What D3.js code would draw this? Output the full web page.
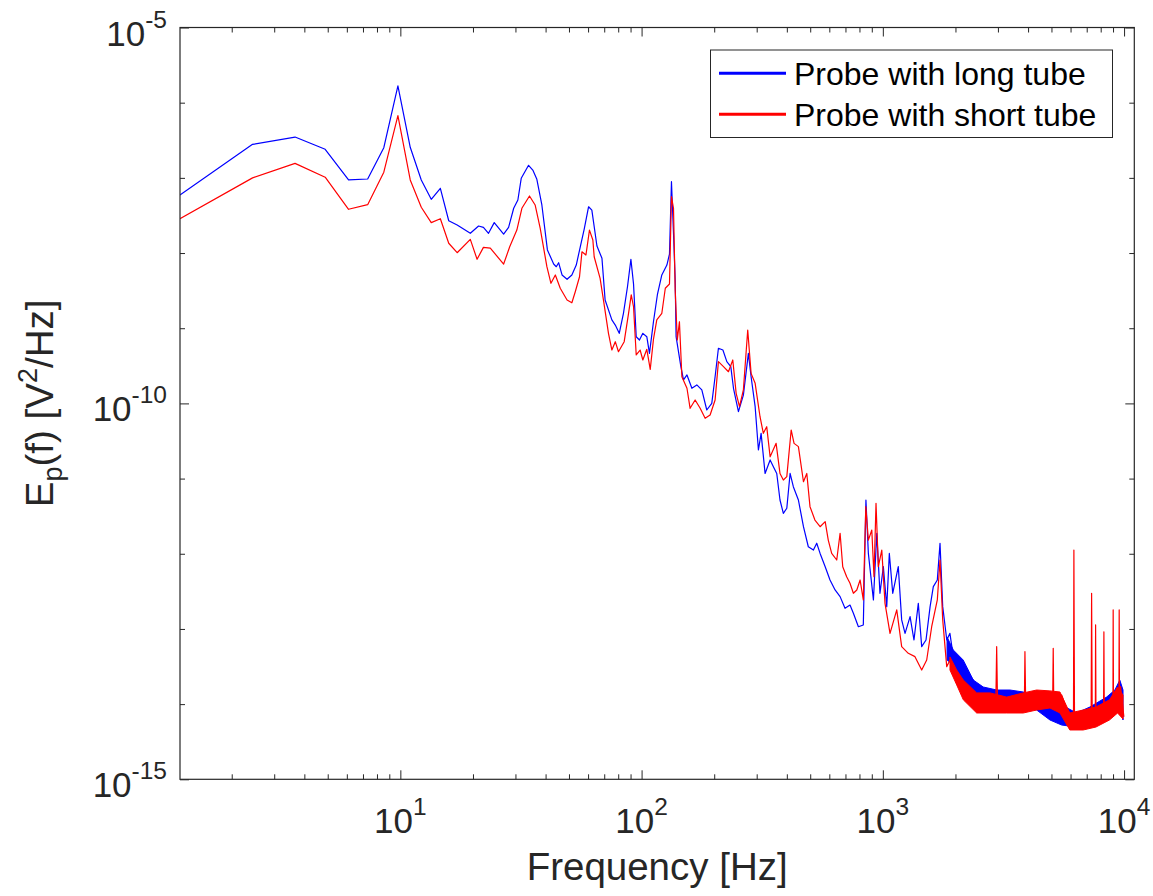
<!DOCTYPE html>
<html>
<head>
<meta charset="utf-8">
<script src="https://cdn.jsdelivr.net/npm/d3@7"></script>
<style>
  body { margin: 0; background: #fff; }
  text { font-family: "Liberation Sans", Arial, Helvetica, sans-serif; }
</style>
</head>
<body>
<svg id="chart" width="1153" height="896"></svg>
<script>
// spectra (frequency in Hz, E_p in V^2/Hz)
const freqLong = [
  1.22, 2.44, 3.66, 4.88, 6.10, 7.32, 8.54, 9.77, 10.99, 12.21, 13.43, 14.65, 15.87,
  17.2, 19.5, 21.1, 22.1, 23.2, 24.5, 26.8, 28.1, 29.5, 30.7, 31.7, 34.0, 35.4, 36.8,
  38.6, 40.7, 43.2, 44.3, 45.3, 46.8, 49.1, 51.4, 53.6, 55.7, 57.8, 60.3, 62.2, 65.3,
  68.5, 70.6, 75.3, 77.8, 80.8, 84.1, 87.4, 90.3, 92.6, 95.0, 98.0, 101.2, 105.1,
  107.8, 112.0, 116.4, 121.3, 127.3, 130.5, 133.0, 135.6, 137.8, 139.0, 145.5, 149.2,
  154.2, 161.6, 169.4, 177.7, 186.3, 195.4, 201.7, 208.2, 217.3, 225.6, 234.3, 240.4,
  252, 264.2, 277.1, 284.4, 295.6, 305, 312.9, 325, 341, 351.8, 363.3, 374.7, 386.9,
  399.9, 412.6, 425.6, 446.7, 468.8, 491, 515.5, 532.1, 549.5, 576.8, 604, 634, 665,
  697, 731, 755, 792, 830, 851, 871, 914, 944, 973, 1005, 1038, 1064, 1099, 1159,
  1197, 1236, 1297, 1346, 1403, 1449, 1510, 1570, 1619, 1682, 1726, 1771, 1841, 1897,
  1959, 2055, 2153, 2259, 2371, 2488, 2607, 2780, 2965, 3155, 3365, 3589, 3819, 4074,
  4337, 4624, 4932, 5165, 5420, 5781, 6353, 6770, 7211, 7816, 8466, 9160, 9608, 9908
];
const longTube = [
  5.92e-8, 2.79e-7, 3.49e-7, 2.40e-7, 9.38e-8, 9.66e-8, 2.52e-7, 1.67e-6, 2.55e-7, 9.38e-8, 5.19e-8, 7.26e-8, 2.69e-8,
  2.36e-8, 1.83e-8, 2.29e-8, 2.20e-8, 1.83e-8, 2.54e-8, 1.79e-8, 2.20e-8, 3.94e-8, 5.08e-8, 9.86e-8, 1.47e-7, 1.27e-7, 9.57e-8,
  4.36e-8, 1.10e-8, 7.14e-9, 6.58e-9, 7.44e-9, 5.11e-9, 4.48e-9, 5.11e-9, 6.93e-9, 1.21e-8, 2.07e-8, 4.13e-8, 3.73e-8, 1.24e-8,
  8.51e-9, 2.37e-9, 1.29e-9, 1.10e-9, 8.55e-10, 1.58e-9, 3.56e-9, 8.26e-9, 3.87e-9, 7.71e-10, 6.97e-10, 8.55e-10, 7.71e-10,
  4.63e-10, 1.22e-9, 2.85e-9, 5.11e-9, 6.93e-9, 9.70e-9, 8.89e-8, 1.83e-8, 4.38e-9, 7.71e-10, 3.08e-10, 2.05e-10,
  2.39e-10, 1.59e-10, 1.76e-10, 1.51e-10, 8.17e-11, 1.00e-10, 2.26e-10, 5.41e-10, 5.13e-10, 3.59e-10, 3.08e-10, 1.59e-10,
  7.76e-11, 1.29e-10, 4.63e-10, 2.26e-10, 9.04e-11, 2.40e-11, 4.00e-11, 1.17e-11, 1.77e-11, 1.44e-11, 1.17e-11, 5.19e-12, 3.45e-12,
  4.03e-12, 1.17e-11, 7.80e-12, 5.19e-12, 2.29e-12, 1.24e-12, 1.12e-12, 1.38e-12, 1.01e-12, 6.73e-13, 4.48e-13, 3.30e-13, 2.69e-13,
  1.88e-13, 2.08e-13, 1.62e-13, 1.07e-13, 1.13e-13, 5.19e-12, 1.01e-12, 2.43e-13, 1.87e-12, 2.98e-13, 6.73e-13, 1.98e-13, 1.01e-12, 2.98e-13, 6.73e-13,
  1.32e-13, 8.75e-14, 1.46e-13, 7.13e-14, 2.19e-13, 5.81e-14, 7.13e-14, 1.98e-13, 3.65e-13, 4.48e-13, 1.38e-12, 1.98e-13, 7.13e-14, 8.75e-14,
  4.28e-14, 3.15e-14, 3.49e-14, 2.57e-14, 2.09e-14, 1.39e-14, 1.26e-14, 1.39e-14, 1.26e-14, 1.32e-14, 1.26e-14, 1.14e-14, 1.14e-14, 1.08e-14,
  1.03e-14, 7.55e-15, 6.47e-15, 8.35e-15, 6.15e-15, 5.56e-15, 5.56e-15, 6.47e-15, 7.55e-15, 9.25e-15, 1.03e-14, 1.26e-14, 1.71e-14, 6.79e-15
];

const freqShort = [
  1.22, 2.44, 3.66, 4.88, 6.10, 7.32, 8.54, 9.77, 10.99, 12.21, 13.43, 14.65, 15.87,
  17.2, 19.5, 20.8, 22.1, 23.6, 26.8, 28.4, 30.4, 31.9, 34.3, 36.2, 38.0, 40.5, 42.1,
  43.9, 46.0, 49.1, 51.4, 53.1, 55.3, 56.6, 58.8, 60.8, 62.8, 63.6, 67.3, 69.5, 72.9,
  75.3, 77.8, 80.2, 84.7, 88.3, 90.6, 92.6, 95.0, 98.6, 101.2, 105.1, 108.6, 112.0,
  115.6, 121.3, 125.4, 130.5, 133.0, 135.6, 137.8, 140.6, 143.5, 146.9, 154.2, 158.9,
  166.7, 174.9, 183.4, 192.3, 201.7, 208.2, 218.5, 229.1, 238.8, 246.6, 254.6, 264.2,
  275.4, 284.4, 295.6, 309.7, 319.6, 330.1, 341, 361.1, 374.7, 386.9, 399.9, 416.9,
  428.5, 446.7, 468.8, 484, 499, 523, 549.5, 576.8, 594, 613.8, 644, 665, 682, 708,
  731, 755, 780, 805, 830, 850, 871, 900, 919, 937, 958, 990, 1021, 1071, 1142, 1197,
  1275, 1359, 1449, 1520, 1594, 1682, 1726, 1771, 1840, 1898, 2024, 2156, 2297, 2449,
  2609, 2781, 2940, 2964, 2990, 3261, 3587, 3860, 3882, 3910, 4341, 4775, 5060, 5085,
  5110, 5511, 5868, 6170, 6194, 6230, 6770, 7300, 7335, 7380, 7600, 7620, 7650, 8220,
  8248, 8280, 8990, 9012, 9040, 9520, 9544, 9570, 9672, 9981
];
const shortTube = [
  2.86e-8, 1.00e-7, 1.56e-7, 1.02e-7, 3.82e-8, 4.40e-8, 1.19e-7, 6.71e-7, 9.38e-8, 4.06e-8, 2.54e-8, 2.86e-8, 1.35e-8,
  1.01e-8, 1.52e-8, 8.26e-9, 1.19e-8, 1.16e-8, 7.14e-9, 1.21e-8, 2.02e-8, 3.94e-8, 5.74e-8, 4.36e-8, 2.13e-8, 6.58e-9, 3.96e-9,
  5.11e-9, 3.40e-9, 2.37e-9, 2.18e-9, 3.06e-9, 4.84e-9, 1.04e-8, 9.42e-9, 2.02e-8, 1.49e-8, 8.93e-9, 4.61e-9, 2.37e-9, 8.55e-10,
  5.13e-10, 6.62e-10, 4.87e-10, 6.62e-10, 1.58e-9, 2.77e-9, 1.93e-9, 4.41e-10, 5.13e-10, 3.78e-10, 5.24e-10, 2.84e-10, 7.13e-10,
  1.29e-9, 1.58e-9, 3.40e-9, 3.87e-9, 5.64e-8, 3.94e-8, 3.23e-9, 6.97e-10, 1.22e-9, 2.26e-10, 1.59e-10, 8.61e-11,
  1.11e-10, 8.61e-11, 6.34e-11, 7.02e-11, 1.11e-10, 3.59e-10, 3.08e-10, 2.64e-10, 3.78e-10, 1.36e-10, 9.04e-11, 1.51e-10,
  9.46e-10, 2.51e-10, 1.85e-10, 6.65e-11, 4.00e-11, 4.90e-11, 1.95e-11, 2.94e-11, 1.17e-11, 9.57e-12, 1.06e-11, 4.43e-11,
  2.94e-11, 2.66e-11, 9.08e-12, 1.17e-11, 4.23e-12, 2.81e-12, 2.29e-12, 2.67e-12, 1.52e-12, 1.01e-12, 8.26e-13, 1.87e-12, 6.73e-13, 4.95e-13,
  4.05e-13, 2.98e-13, 3.30e-13, 4.48e-13, 2.43e-13, 4.23e-12, 1.52e-12, 2.07e-12, 4.95e-13, 4.69e-12, 6.73e-13, 1.12e-12, 2.19e-13, 8.75e-14, 1.79e-13, 5.81e-14,
  4.74e-14, 4.28e-14, 2.84e-14, 3.86e-14, 1.07e-13, 2.43e-13, 8.26e-13, 1.32e-13, 3.15e-14, 3.86e-14, 1.89e-14, 1.39e-14, 1.14e-14, 9.25e-15,
  8.35e-15, 1.03e-14, 1.03e-14, 5.81e-14, 9.25e-15, 1.03e-14, 8.79e-15, 9.50e-15, 4.98e-14, 1.03e-14, 1.14e-14, 1.26e-14, 1.20e-14, 5.52e-14,
  1.14e-14, 1.32e-14, 7.55e-15, 7.00e-15, 1.12e-12, 6.15e-15, 5.01e-15, 5.50e-15, 2.98e-13, 5.56e-15, 6.00e-15, 1.13e-13, 5.56e-15, 6.50e-15,
  9.18e-14, 6.79e-15, 7.50e-15, 1.79e-13, 7.55e-15, 1.00e-14, 1.79e-13, 1.20e-14, 1.71e-14, 6.79e-15
];

// spread of the noisy floor above ~2 kHz (lower and upper edge of each band)
const bandFreqLong = [1846, 1960, 2153, 2371, 2607, 2965, 3365, 3820, 4341, 4929, 5511, 6355, 7217, 8463, 9160, 9600, 9900];
const bandLowLong  = [3.86e-14, 3.32e-14, 1.69e-14, 1.54e-14, 1.04e-14, 9.16e-15, 9.16e-15, 9.16e-15, 8.35e-15, 6.15e-15, 5.27e-15, 4.96e-15, 5.61e-15, 6.15e-15, 7.62e-15, 9.16e-15, 6.15e-15];
const bandHighLong = [7.82e-14, 5.24e-14, 3.86e-14, 2.09e-14, 1.69e-14, 1.54e-14, 1.54e-14, 1.45e-14, 1.24e-14, 1.04e-14, 9.73e-15, 7.62e-15, 9.16e-15, 1.24e-14, 1.54e-14, 2.09e-14, 1.54e-14];

const bandFreqShort = [1898, 2024, 2156, 2449, 2781, 3261, 3820, 4341, 4929, 5423, 5957, 6770, 7650, 8700, 9400, 9900];
const bandLowShort  = [2.84e-14, 1.80e-14, 1.14e-14, 7.62e-15, 7.62e-15, 7.62e-15, 7.62e-15, 8.35e-15, 8.88e-15, 7.62e-15, 4.53e-15, 4.53e-15, 4.96e-15, 6.15e-15, 7.62e-15, 6.34e-15];
const bandHighShort = [4.24e-14, 2.84e-14, 2.09e-14, 1.41e-14, 1.41e-14, 1.24e-14, 1.41e-14, 1.54e-14, 1.50e-14, 1.45e-14, 7.62e-15, 8.35e-15, 9.16e-15, 1.14e-14, 1.69e-14, 1.32e-14];

const legendLabels = ["Probe with long tube", "Probe with short tube"];
const seriesColors = ["#0000ff", "#ff0000"];
const xMajorExps = [1, 2, 3, 4];
const yMajorExps = [-15, -10, -5];

const axisColor = "#262626";
const plot = { left: 180, top: 27.5, right: 1134.3, bottom: 779.3 };

const svg = d3.select("#chart");

const x = d3.scaleLog().domain([1.2207, 11025]).range([plot.left, plot.right]);
const y = d3.scaleLog().domain([1e-15, 1e-5]).range([plot.bottom, plot.top]);

// tick positions
const xMajor = xMajorExps.map(e => Math.pow(10, e));
const xMinor = [];
for (let d = 0; d < 4; d++) {
    for (let m = 2; m <= 9; m++) {
        const v = m * Math.pow(10, d);
        if (v > 1.2207 && v < 11025) xMinor.push(v);
    }
}
const yMajor = yMajorExps.map(e => Math.pow(10, e));
const yMinor = d3.range(-14, -5).filter(e => e !== -10).map(e => Math.pow(10, e));

function tickAxis(gen, scale, values, size, transform) {
    const g = svg.append("g")
        .attr("transform", transform)
        .call(gen(scale).tickValues(values).tickSize(size).tickFormat(""));
    g.select(".domain").remove();
    g.selectAll("line").attr("stroke", axisColor).attr("stroke-width", 1);
}

tickAxis(d3.axisBottom, x, xMinor, -5, `translate(0,${plot.bottom})`);
tickAxis(d3.axisBottom, x, xMajor, -9, `translate(0,${plot.bottom})`);
tickAxis(d3.axisTop, x, xMinor, -5, `translate(0,${plot.top})`);
tickAxis(d3.axisTop, x, xMajor, -9, `translate(0,${plot.top})`);
tickAxis(d3.axisLeft, y, yMinor, -5, `translate(${plot.left},0)`);
tickAxis(d3.axisLeft, y, yMajor, -9, `translate(${plot.left},0)`);
tickAxis(d3.axisRight, y, yMinor, -5, `translate(${plot.right},0)`);
tickAxis(d3.axisRight, y, yMajor, -9, `translate(${plot.right},0)`);

// clip for the data lines
svg.append("clipPath").attr("id", "clip")
    .append("rect")
    .attr("x", plot.left).attr("y", plot.top)
    .attr("width", plot.right - plot.left).attr("height", plot.bottom - plot.top);

const line = d3.line()
    .x(d => x(d[0]))
    .y(d => y(d[1]));

const band = d3.area()
    .x(d => x(d[0]))
    .y0(d => y(d[1]))
    .y1(d => y(d[2]));

const series = [
    { pts: d3.zip(freqLong, longTube), band: d3.zip(bandFreqLong, bandLowLong, bandHighLong) },
    { pts: d3.zip(freqShort, shortTube), band: d3.zip(bandFreqShort, bandLowShort, bandHighShort) }
];

const dataG = svg.append("g").attr("clip-path", "url(#clip)");

// blue first, red drawn on top
series.forEach((s, i) => {
    dataG.append("path")
        .attr("d", band(s.band))
        .attr("fill", seriesColors[i])
        .attr("stroke", seriesColors[i])
        .attr("stroke-width", 1);
    dataG.append("path")
        .attr("d", line(s.pts))
        .attr("fill", "none")
        .attr("stroke", seriesColors[i])
        .attr("stroke-width", 1.2)
        .attr("stroke-linejoin", "round");
});

// axes box
svg.append("rect")
    .attr("x", plot.left).attr("y", plot.top)
    .attr("width", plot.right - plot.left).attr("height", plot.bottom - plot.top)
    .attr("fill", "none")
    .attr("stroke", axisColor)
    .attr("stroke-width", 1.2);

// x tick labels
const xLab = svg.append("g").selectAll("text")
    .data(xMajorExps)
    .enter().append("text")
    .attr("x", d => x(Math.pow(10, d)))
    .attr("y", 833)
    .attr("text-anchor", "middle")
    .attr("fill", axisColor)
    .style("font-size", "35px");
xLab.append("tspan").text("10");
xLab.append("tspan").attr("dy", -18).style("font-size", "24.5px").text(d => d);

// y tick labels
const yLab = svg.append("g").selectAll("text")
    .data(yMajorExps)
    .enter().append("text")
    .attr("x", 167)
    .attr("y", d => y(Math.pow(10, d)) + 18)
    .attr("text-anchor", "end")
    .attr("fill", axisColor)
    .style("font-size", "35px");
yLab.append("tspan").text("10");
yLab.append("tspan").attr("dy", -18).style("font-size", "24.5px").text(d => "-" + Math.abs(d));

// axis titles
svg.append("text")
    .attr("x", (plot.left + plot.right) / 2)
    .attr("y", 880)
    .attr("text-anchor", "middle")
    .attr("fill", axisColor)
    .style("font-size", "38.5px")
    .text("Frequency [Hz]");

const yTitle = svg.append("text")
    .attr("transform", `translate(53,${(plot.top + plot.bottom) / 2}) rotate(-90)`)
    .attr("text-anchor", "middle")
    .attr("fill", axisColor)
    .style("font-size", "38.5px");
yTitle.append("tspan").text("E");
yTitle.append("tspan").attr("dy", 9).style("font-size", "27px").text("p");
yTitle.append("tspan").attr("dy", -9).text("(f) [V");
yTitle.append("tspan").attr("dy", -16).style("font-size", "27px").text("2");
yTitle.append("tspan").attr("dy", 16).text("/Hz]");

// legend
const legend = svg.append("g");
legend.append("rect")
    .attr("x", 710.5).attr("y", 50)
    .attr("width", 402).attr("height", 87.5)
    .attr("fill", "#fff")
    .attr("stroke", axisColor)
    .attr("stroke-width", 1);

const items = legend.selectAll("g.item")
    .data(legendLabels)
    .enter().append("g")
    .attr("class", "item")
    .attr("transform", (d, i) => `translate(0,${73.3 + i * 41})`);

items.append("line")
    .attr("x1", 719).attr("x2", 786)
    .attr("y1", 0).attr("y2", 0)
    .attr("stroke", (d, i) => seriesColors[i])
    .attr("stroke-width", 3);

items.append("text")
    .attr("x", 794)
    .attr("y", 11.5)
    .attr("fill", "#000")
    .style("font-size", "32px")
    .text(d => d);
</script>
</body>
</html>
